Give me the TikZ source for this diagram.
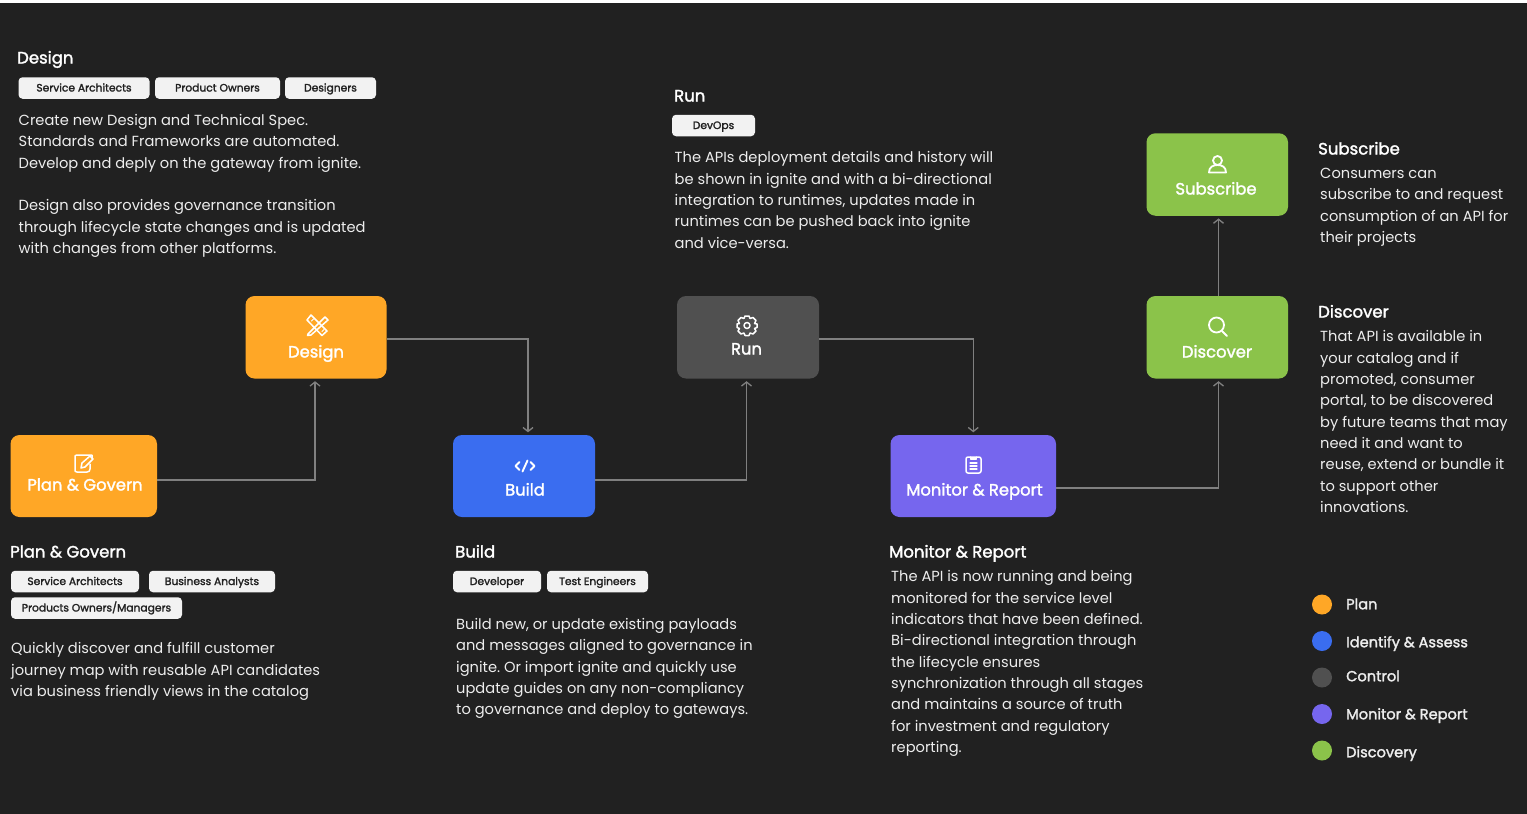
\documentclass[tikz,border=0pt]{standalone}
\usepackage{fontspec}
\setmainfont{Poppins}
\newfontfamily\medfont[FakeBold=1.8]{Poppins}
\usetikzlibrary{arrows.meta}
\definecolor{bgcol}{HTML}{212121}
\definecolor{plancol}{HTML}{FFA726}
\definecolor{buildcol}{HTML}{3A6DF0}
\definecolor{runcol}{HTML}{505050}
\definecolor{monitorcol}{HTML}{7666EE}
\definecolor{discovercol}{HTML}{8BC34A}
\definecolor{linecol}{HTML}{808080}
\definecolor{chipcol}{HTML}{F2F2F2}
\definecolor{bodycol}{HTML}{EDEDED}
\tikzset{
  stagebox/.style={draw=none, rounded corners=9pt, inner sep=0pt},
  stagetext/.style={text=white, font=\medfont\fontsize{16.4}{18}\selectfont, inner sep=0pt, text height=14pt, text depth=3pt},
  stageicon/.style={draw=white, line width=1.5pt, line cap=round, line join=round, fill=none},
  flow/.style={draw=linecol, line width=1.3pt, -{Straight Barb[length=4pt,width=10pt]}, shorten >=2.5pt},
  headtext/.style={text=white, anchor=west, inner sep=0pt, font=\medfont\fontsize{16.5}{18}\selectfont, text height=14pt, text depth=3pt},
  bodytext/.style={text=bodycol, anchor=north west, align=left, inner sep=0pt, font=\frenchspacing\fontsize{14.65}{21.33}\selectfont},
  chip/.style={fill=chipcol, rounded corners=4pt, inner sep=0pt, text=bgcol, font=\medfont\fontsize{10.7}{12}\selectfont, text height=9pt, text depth=2pt},
  legenddot/.style={circle, minimum size=20pt, inner sep=0pt},
  legendtext/.style={text=bodycol, anchor=west, inner sep=0pt, font=\medfont\fontsize{14.6}{16}\selectfont, text height=12pt, text depth=2.5pt},
}
\begin{document}
\begin{tikzpicture}[x=1pt, y=-1pt]

    \fill[bgcol] (0, 0) rectangle (1527, 814);
    \fill[white] (0, 0) rectangle (1527, 3);
    \useasboundingbox (0, 0) rectangle (1527, 814);

    % stages
    \node[stagebox, fill=plancol, minimum width=146.5pt, minimum height=82pt] (plan) at (83.75, 476) {};
    \node[stagebox, fill=plancol, minimum width=141pt, minimum height=82.5pt] (design) at (316, 337.25) {};
    \node[stagebox, fill=buildcol, minimum width=142pt, minimum height=82pt] (build) at (524, 476) {};
    \node[stagebox, fill=runcol, minimum width=142pt, minimum height=82.5pt] (run) at (748, 337.25) {};
    \node[stagebox, fill=monitorcol, minimum width=165.5pt, minimum height=82pt] (monitor) at (973.25, 476) {};
    \node[stagebox, fill=discovercol, minimum width=141.5pt, minimum height=82.5pt] (discover) at (1217.25, 337.25) {};
    \node[stagebox, fill=discovercol, minimum width=141.5pt, minimum height=82.5pt] (subscribe) at (1217.25, 174.5) {};

    \node[stagetext] (plantext) at (85, 485) {Plan \& Govern};
    \node[stagetext] (designtext) at (316, 352) {Design};
    \node[stagetext] (buildtext) at (525, 490) {Build};
    \node[stagetext] (runtext) at (746.5, 349) {Run};
    \node[stagetext] (monitortext) at (974.5, 490) {Monitor \& Report};
    \node[stagetext] (discovertext) at (1217, 352) {Discover};
    \node[stagetext] (subscribetext) at (1216, 189) {Subscribe};

    % icones
    \draw[stageicon] (92, 458) -- (92, 455) -- (77, 455) .. controls (75, 455) and (75, 456) .. (75, 457)
      -- (75, 470) .. controls (75, 471) and (75, 472) .. (77, 472) -- (87, 472) .. controls (89, 472) and (90, 471) .. (90, 469) -- (90, 464);
    \draw[stageicon] (81, 468) -- (82, 463) -- (90, 456) -- (93, 459) -- (85, 467) -- cycle;
    \draw[stageicon] (308, 334) -- (325, 317) -- (328, 320) -- (311, 335) -- (307.5, 335.5) -- cycle;
    \draw[stageicon] (311, 315) -- (327, 331) -- (322, 335.5) -- (307, 320) -- cycle;
    \draw[stageicon, line width=1pt] (311.5, 321) -- (313.5, 319) (322, 331.5) -- (324, 329.5);
    \draw[stageicon, line width=1.9pt] (519.5, 462) -- (515.5, 466) -- (519.5, 470);
    \draw[stageicon, line width=1.9pt] (530.5, 462) -- (534.5, 466) -- (530.5, 470);
    \draw[stageicon, line width=1.9pt] (527.5, 460.5) -- (522.5, 471.5);
    \draw[stageicon] (747, 325.5) circle (3pt);
    \draw[stageicon] (745, 316) -- (749, 316) -- (750, 318.5) -- (753, 317.5) -- (756, 320.5) -- (754.5, 323.5)
      -- (757, 324) -- (757, 327.5) -- (754.5, 328.5) -- (756, 331) -- (753, 334) -- (750, 333) -- (749, 335.5)
      -- (745, 335.5) -- (744, 333) -- (741, 334) -- (738, 331) -- (739.5, 328.5) -- (737, 327.5) -- (737, 324)
      -- (739.5, 323.5) -- (738, 320.5) -- (741, 317.5) -- (744, 318.5) -- cycle;
    \draw[stageicon, rounded corners=2pt] (966, 457) rectangle (981, 473);
    \draw[stageicon] (970.5, 457) -- (970.5, 459) -- (976.5, 459) -- (976.5, 457);
    \draw[stageicon, line width=1.2pt] (970, 463) -- (977, 463) (970, 466) -- (977, 466) (970, 469) -- (977, 469);
    \draw[stageicon, line width=1.8pt] (1216.5, 325) circle (7.5pt);
    \draw[stageicon, line width=1.8pt] (1222, 331) -- (1227, 336);
    \draw[stageicon, line width=1.8pt] (1217.5, 160.5) circle (4.5pt);
    \draw[stageicon, line width=1.8pt] (1209, 172.5) -- (1226, 172.5) .. controls (1226, 167) and (1222, 165) .. (1217.5, 165) .. controls (1213, 165) and (1209, 167) .. (1209, 172.5) -- cycle;

    % liens
    \draw[flow] ([yshift=-4pt]plan.east) -| ([xshift=-1pt]design.south);
    \draw[flow] ([yshift=-1.75pt]design.east) -| ([xshift=4pt]build.north);
    \draw[flow] ([yshift=-4pt]build.east) -| ([xshift=-1.5pt]run.south);
    \draw[flow] ([yshift=-1.75pt]run.east) -| (monitor.north);
    \draw[flow] ([yshift=-12pt]monitor.east) -| ([xshift=1.25pt]discover.south);
    \draw[flow] ([xshift=1.25pt]discover.north) -- ([xshift=1.25pt]subscribe.south);

    % design
    \node[headtext] (designhead) at (17, 58) {Design};
    \node[chip, minimum width=131pt, minimum height=21.5pt] (chipa) at (84, 88) {Service Architects};
    \node[chip, minimum width=125pt, minimum height=21.5pt] (chipb) at (217.5, 88) {Product Owners};
    \node[chip, minimum width=91pt, minimum height=21.5pt] (chipc) at (330.5, 88) {Designers};
    \node[bodytext] (designbody) at (18.5, 114) {Create new Design and Technical Spec.\\
      Standards and Frameworks are automated.\\
      Develop and deply on the gateway from ignite.\\[21.33pt]
      Design also provides governance transition\\
      through lifecycle state changes and is updated\\
      with changes from other platforms.};

    % run
    \node[headtext] (runhead) at (674, 96) {Run};
    \node[chip, minimum width=83pt, minimum height=21.5pt] (chipd) at (713.5, 125.5) {DevOps};
    \node[bodytext] (runbody) at (674.5, 151.5) {The APIs deployment details and history will\\
      be shown in ignite and with a bi-directional\\
      integration to runtimes, updates made in\\
      runtimes can be pushed back into ignite\\
      and vice-versa.};

    % subscribe
    \node[headtext] (subscribehead) at (1318, 149) {Subscribe};
    \node[bodytext] (subscribebody) at (1320, 167.8) {Consumers can\\
      subscribe to and request\\
      consumption of an API for\\
      their projects};

    % discover
    \node[headtext] (discoverhead) at (1318, 312) {Discover};
    \node[bodytext] (discoverbody) at (1320, 330.5) {That API is available in\\
      your catalog and if\\
      promoted, consumer\\
      portal, to be discovered\\
      by future teams that may\\
      need it and want to\\
      reuse, extend or bundle it\\
      to support other\\
      innovations.};

    % plan
    \node[headtext] (planhead) at (10, 552) {Plan \& Govern};
    \node[chip, minimum width=128pt, minimum height=21.5pt] (chipe) at (75, 581.5) {Service Architects};
    \node[chip, minimum width=126pt, minimum height=21.5pt] (chipf) at (212, 581.5) {Business Analysts};
    \node[chip, minimum width=171pt, minimum height=21.5pt] (chipg) at (96.5, 608) {Products Owners/Managers};
    \node[bodytext] (planbody) at (11, 642.3) {Quickly discover and fulfill customer\\
      journey map with reusable API candidates\\
      via business friendly views in the catalog};

    % build
    \node[headtext] (buildhead) at (455, 552) {Build};
    \node[chip, minimum width=88pt, minimum height=21.5pt] (chiph) at (497, 581.5) {Developer};
    \node[chip, minimum width=101pt, minimum height=21.5pt] (chipi) at (597.5, 581.5) {Test Engineers};
    \node[bodytext] (buildbody) at (456, 618.3) {Build new, or update existing payloads\\
      and messages aligned to governance in\\
      ignite. Or import ignite and quickly use\\
      update guides on any non-compliancy\\
      to governance and deploy to gateways.};

    % monitor
    \node[headtext] (monitorhead) at (889, 552) {Monitor \& Report};
    \node[bodytext] (monitorbody) at (891, 570.5) {The API is now running and being\\
      monitored for the service level\\
      indicators that have been defined.\\
      Bi-directional integration through\\
      the lifecycle ensures\\
      synchronization through all stages\\
      and maintains a source of truth\\
      for investment and regulatory\\
      reporting.};

    % legende
    \node[legenddot, fill=plancol] (dota) at (1322, 604.5) {};
    \node[legenddot, fill=buildcol] (dotb) at (1322, 641) {};
    \node[legenddot, fill=runcol] (dotc) at (1322, 677.5) {};
    \node[legenddot, fill=monitorcol] (dotd) at (1322, 714) {};
    \node[legenddot, fill=discovercol] (dote) at (1322, 750.5) {};
    \node[legendtext] (texta) at (1346, 604.5) {Plan};
    \node[legendtext] (textb) at (1346, 642.5) {Identify \& Assess};
    \node[legendtext] (textc) at (1346, 676.5) {Control};
    \node[legendtext] (textd) at (1346, 714.5) {Monitor \& Report};
    \node[legendtext] (texte) at (1346, 752.5) {Discovery};

  \end{tikzpicture}
\end{document}
